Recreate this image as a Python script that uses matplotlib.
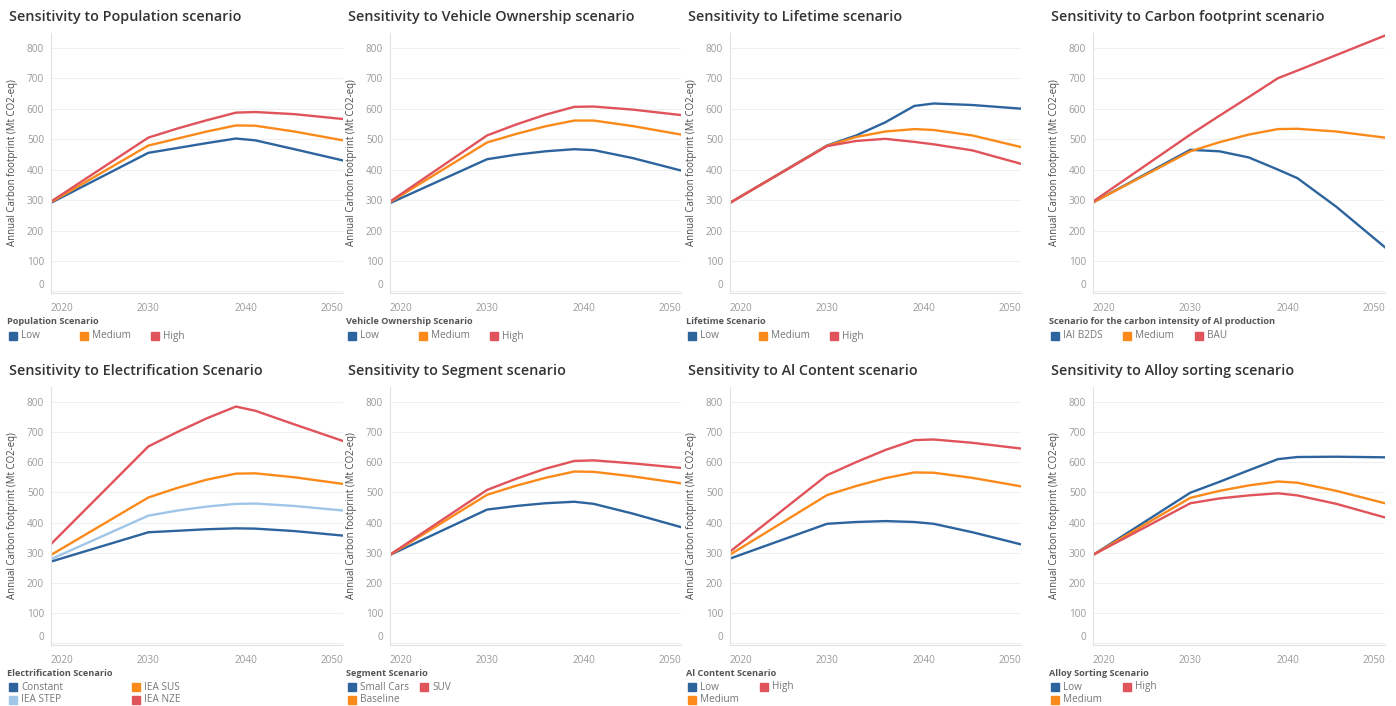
import matplotlib.pyplot as plt
from matplotlib.patches import Rectangle

plt.rcParams["font.family"] = ["Open Sans", "DejaVu Sans"]

W, H = 1396, 706

years = [2020, 2030, 2033, 2036, 2039, 2041, 2045, 2050]

BLUE, ORANGE, RED, LIGHT = "#2d649e", "#fb8a1a", "#e0535a", "#9fc5e8"

# --- series (Mt CO2-eq) ---
pop_low = [291, 455, 471, 487, 502, 496, 467, 430]
pop_med = [293, 479, 502, 525, 545, 544, 525, 496]
pop_high = [295, 505, 535, 562, 587, 589, 582, 566]

veh_low = [290, 434, 449, 460, 467, 464, 438, 397]
veh_med = [293, 489, 517, 542, 561, 561, 543, 515]
veh_high = [295, 512, 548, 580, 606, 607, 597, 579]

life_low = [291, 479, 512, 555, 609, 617, 612, 600]
life_med = [291, 478, 507, 525, 533, 530, 512, 474]
life_high = [291, 477, 494, 501, 491, 483, 463, 419]

cf_b2ds = [292, 465, 460, 440, 400, 372, 278, 145]
cf_med = [292, 460, 490, 515, 533, 534, 525, 505]
cf_bau = [295, 515, 577, 638, 700, 725, 776, 840]

el_const = [271, 368, 373, 378, 381, 380, 372, 357]
el_step = [279, 423, 440, 453, 462, 463, 455, 440]
el_sus = [293, 483, 515, 542, 562, 563, 550, 528]
el_nze = [329, 652, 700, 745, 784, 770, 725, 670]

seg_small = [293, 443, 455, 464, 469, 462, 430, 385]
seg_base = [293, 492, 522, 548, 569, 568, 553, 530]
seg_suv = [294, 508, 545, 578, 604, 606, 596, 581]

al_low = [281, 396, 402, 405, 402, 396, 368, 328]
al_med = [294, 491, 521, 547, 566, 565, 548, 520]
al_high = [304, 557, 600, 640, 673, 675, 664, 645]

alloy_low = [293, 499, 535, 573, 610, 617, 618, 616]
alloy_med = [293, 482, 505, 523, 536, 532, 505, 464]
alloy_high = [293, 464, 480, 490, 497, 490, 462, 417]

panels = [
    ("Sensitivity to Population scenario", "Population Scenario",
     [("Low", pop_low, BLUE), ("Medium", pop_med, ORANGE), ("High", pop_high, RED)],
     [(0, 0), (1, 0), (2, 0)], 71),
    ("Sensitivity to Vehicle Ownership scenario", "Vehicle Ownership Scenario",
     [("Low", veh_low, BLUE), ("Medium", veh_med, ORANGE), ("High", veh_high, RED)],
     [(0, 0), (1, 0), (2, 0)], 71),
    ("Sensitivity to Lifetime scenario", "Lifetime Scenario",
     [("Low", life_low, BLUE), ("Medium", life_med, ORANGE), ("High", life_high, RED)],
     [(0, 0), (1, 0), (2, 0)], 71),
    ("Sensitivity to Carbon footprint scenario",
     "Scenario for the carbon intensity of Al production",
     [("IAI B2DS", cf_b2ds, BLUE), ("Medium", cf_med, ORANGE), ("BAU", cf_bau, RED)],
     [(0, 0), (1, 0), (2, 0)], 72),
    ("Sensitivity to Electrification Scenario", "Electrification Scenario",
     [("Constant", el_const, BLUE), ("IEA STEP", el_step, LIGHT),
      ("IEA SUS", el_sus, ORANGE), ("IEA NZE", el_nze, RED)],
     [(0, 0), (0, 1), (1, 0), (1, 1)], 123),
    ("Sensitivity to Segment scenario", "Segment Scenario",
     [("Small Cars", seg_small, BLUE), ("Baseline", seg_base, ORANGE), ("SUV", seg_suv, RED)],
     [(0, 0), (0, 1), (1, 0)], 72),
    ("Sensitivity to Al Content scenario", "Al Content Scenario",
     [("Low", al_low, BLUE), ("Medium", al_med, ORANGE), ("High", al_high, RED)],
     [(0, 0), (0, 1), (1, 0)], 72),
    ("Sensitivity to Alloy sorting scenario", "Alloy Sorting Scenario",
     [("Low", alloy_low, BLUE), ("Medium", alloy_med, ORANGE), ("High", alloy_high, RED)],
     [(0, 0), (0, 1), (1, 0)], 72),
]

# pixel layout: plot-area left/right per column, top/bottom per row
col_x = [(51, 343), (390, 681), (730, 1021), (1093, 1385)]
row_y = [(32.5, 293), (386.6, 645)]
title_y = [17, 371]
leg_title_y = [322, 673]
leg_row_y = [[336], [687, 700]]

fig = plt.figure(figsize=(W / 100, H / 100), dpi=100)
fig.patch.set_facecolor("white")


def fx(px):
    return px / W


def fy(py):
    return 1 - py / H


for i, (title, leg_title, series, slots, colgap) in enumerate(panels):
    r, c = divmod(i, 4)
    x0, x1 = col_x[c]
    y0, y1 = row_y[r]
    ax = fig.add_axes([fx(x0), fy(y1), (x1 - x0) / W, (y1 - y0) / H])
    for label, vals, color in series:
        ax.plot(years, vals, color=color, lw=1.7, solid_joinstyle="round")
    ax.set_xlim(2020, 2050)
    ax.set_ylim(-5, 850)
    ax.set_yticks(range(0, 801, 100))
    ax.set_xticks([2020, 2030, 2040, 2050])
    ax.grid(axis="y", color="#f0f0f0", lw=0.8)
    ax.set_axisbelow(True)
    for s in ["top", "right"]:
        ax.spines[s].set_visible(False)
    for s in ["left", "bottom"]:
        ax.spines[s].set_color("#e2e2e2")
        ax.spines[s].set_linewidth(0.8)
    ax.tick_params(length=0, labelsize=7.2, labelcolor="#9a9a9a", pad=5)
    ax.tick_params(axis="x", pad=7)
    xl = ax.get_xticklabels()
    xl[0].set_ha("left")
    xl[-1].set_ha("right")
    ax.get_yticklabels()[0].set_va("bottom")
    ax.set_ylabel("Annual Carbon footprint (Mt CO2-eq)", fontsize=6.9, color="#4a4a4a")
    ax.yaxis.set_label_coords(-33 / (x1 - x0), 0.5)

    tx = x0 - 42
    fig.text(fx(tx), fy(title_y[r]), title, fontsize=10.4, fontweight="semibold",
             color="#333333", va="center", ha="left")
    fig.text(fx(tx - 2), fy(leg_title_y[r]), leg_title, fontsize=6.6, fontweight="bold",
             color="#555555", va="center", ha="left")
    for (label, vals, color), (col, row) in zip(series, slots):
        sx = tx + col * colgap
        sy = leg_row_y[r][row]
        fig.add_artist(Rectangle((fx(sx), fy(sy + 4)), 8 / W, 8 / H, color=color,
                                 transform=fig.transFigure))
        fig.text(fx(sx + 12), fy(sy), label, fontsize=7.2, color="#777777",
                 va="center", ha="left")

fig.savefig("out.png", dpi=100, facecolor="white")
